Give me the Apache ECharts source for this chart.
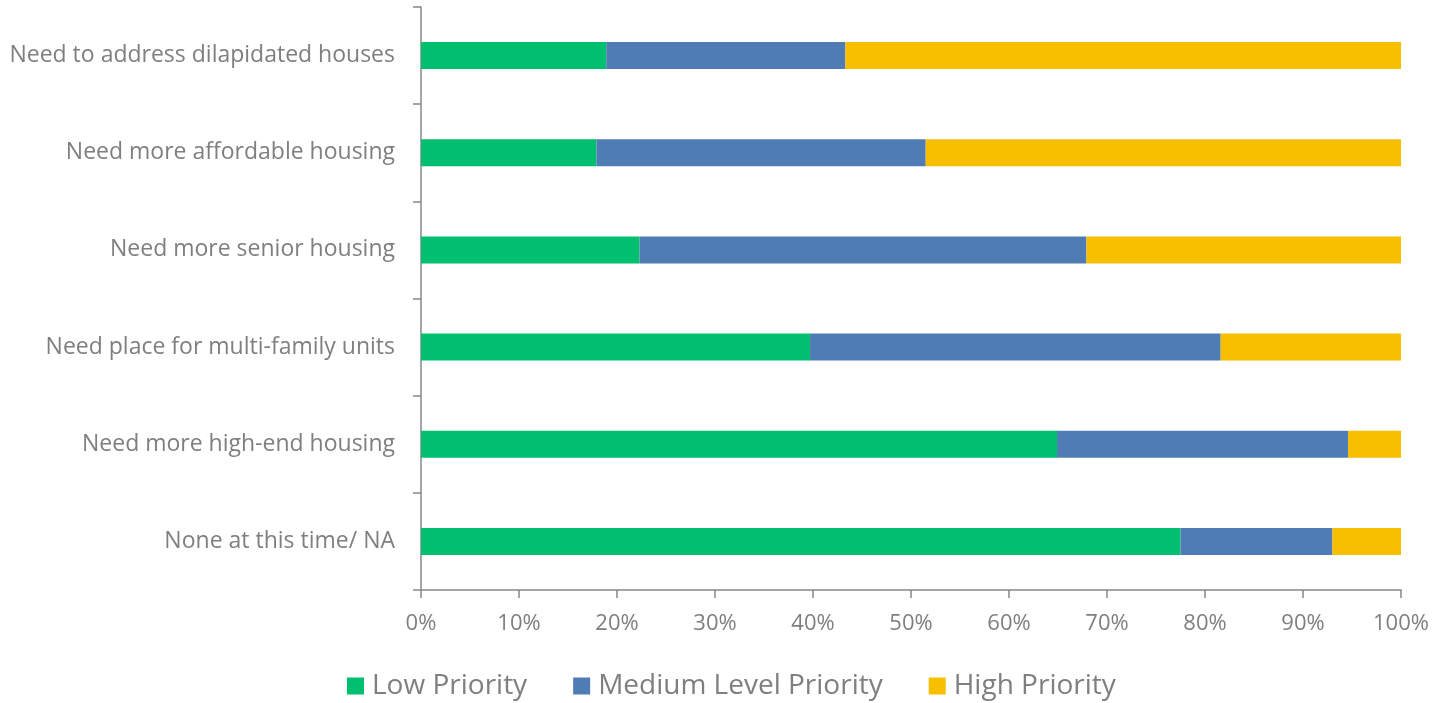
<!DOCTYPE html>
<html>
<head>
<meta charset="utf-8">
<script src="https://cdn.jsdelivr.net/npm/echarts@6/dist/echarts.min.js"></script>
<style>
html,body{margin:0;padding:0;background:#fff;}
#c{width:1441px;height:703px;}
</style>
</head>
<body>
<div id="c"></div>
<script>
const categories = [
  "Need to address dilapidated houses",
  "Need more affordable housing",
  "Need more senior housing",
  "Need place for multi-family units",
  "Need more high-end housing",
  "None at this time/ NA"
];
const seriesNames = ["Low Priority", "Medium Level Priority", "High Priority"];
const lowValues = [18.9, 17.9, 22.3, 39.7, 64.9, 77.5];
const mediumValues = [24.4, 33.6, 45.6, 41.9, 29.7, 15.5];
const highValues = [56.7, 48.5, 32.1, 18.4, 5.4, 7.0];
const colors = ["#00BF6F", "#4F7CB5", "#F8BE00"];

const FONT = "'Open Sans', 'Liberation Sans', sans-serif";
const GRAY = "#7F7F7F";

const chart = echarts.init(document.getElementById('c'), null, {renderer: 'canvas'});
const mk = (name, data, color) => ({
  name: name,
  type: 'bar',
  stack: 'total',
  barWidth: 27,
  data: data,
  itemStyle: {color: color},
  emphasis: {disabled: true}
});
chart.setOption({
  animation: false,
  textStyle: {fontFamily: FONT},
  grid: {left: 421, right: 40, top: 7, bottom: 113, containLabel: false},
  legend: {
    bottom: 3,
    left: 347,
    padding: 0,
    itemWidth: 17,
    itemHeight: 17,
    itemGap: 46,
    icon: 'rect',
    textStyle: {color: GRAY, fontSize: 28, fontFamily: FONT, padding: [0, 0, 0, 3]},
    data: seriesNames
  },
  xAxis: {
    type: 'value',
    min: 0,
    max: 100,
    interval: 10,
    axisLine: {show: true, lineStyle: {color: '#888888', width: 1.5}},
    axisTick: {show: true, length: 8, lineStyle: {color: '#888888', width: 1.5}},
    splitLine: {show: false},
    axisLabel: {color: GRAY, fontSize: 22, margin: 23, formatter: v => v + '%'}
  },
  yAxis: {
    type: 'category',
    inverse: true,
    data: categories,
    axisLine: {show: true, lineStyle: {color: '#888888', width: 1.5}},
    axisTick: {show: true, length: 8, alignWithLabel: false, lineStyle: {color: '#888888', width: 1.5}},
    axisLabel: {color: GRAY, fontSize: 23, margin: 26}
  },
  series: [
    mk(seriesNames[0], lowValues, colors[0]),
    mk(seriesNames[1], mediumValues, colors[1]),
    mk(seriesNames[2], highValues, colors[2])
  ]
});
</script>
</body>
</html>
